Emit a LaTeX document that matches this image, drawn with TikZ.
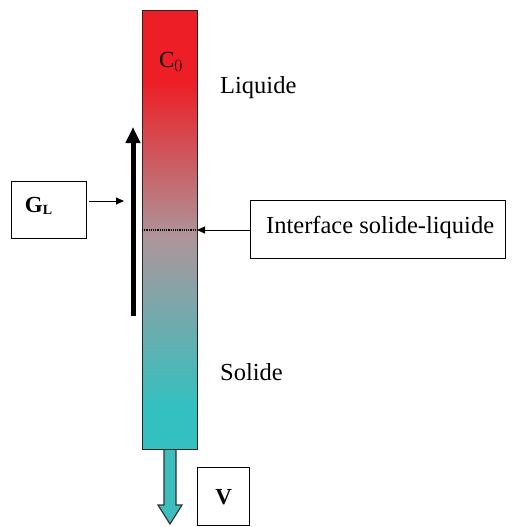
\documentclass[tikz,border=0pt]{standalone}
\usepackage{fontspec}
\setmainfont{Liberation Serif}
\usetikzlibrary{arrows.meta}
\definecolor{cred}{RGB}{237,30,38}
\definecolor{cmid}{RGB}{172,150,155}
\definecolor{cteal}{RGB}{52,192,192}
\definecolor{cteal2}{RGB}{60,190,190}
\pgfdeclareverticalshading{colshade}{100bp}{color(0bp)=(cteal); color(30bp)=(cteal); color(49bp)=(cmid); color(67bp)=(cred); color(100bp)=(cred)}
\tikzset{
  box/.style={draw=black, line width=1.4pt, fill=white},
  lbl/.style={font=\fontsize{24.5}{28}\selectfont, inner sep=0pt},
  thin arrow/.style={line width=0.9pt, -{Triangle[length=8pt,width=7pt]}},
}
\begin{document}
\begin{tikzpicture}[x=1pt,y=-1pt]
\useasboundingbox (0,0) rectangle (515,527);
% column
\node[draw=black!85, line width=1.4pt, shading=colshade, minimum width=55pt, minimum height=439pt, inner sep=0pt, anchor=north west] (col) at (142,10) {};
\node[lbl, font=\fontsize{23}{26}\selectfont] (c0) at (171,62) {C$_0$};
% dotted interface line
\coordinate (dl) at (142,230);
\coordinate (dr) at (197,230);
\draw[densely dotted, line width=1.2pt] (dl) -- (dr);
% labels
\node[lbl, anchor=west] (liq) at (220,88) {Liquide};
\node[lbl, anchor=west] (sol) at (220,372) {Solide};
% big growth arrow
\coordinate (ga) at (133,316);
\coordinate (gb) at (133,127);
\draw[line width=5pt, -{Triangle[length=16pt,width=14pt]}] (ga) -- (gb);
% GL box
\node[box, minimum width=75pt, minimum height=57pt, anchor=north west] (gl) at (11,181) {};
\node[lbl, font=\fontsize{23}{26}\selectfont\bfseries] at (38.5,206) {G\raisebox{-0.12em}{\fontsize{14}{16}\selectfont\bfseries L}};
\coordinate (glt) at (124,201);
\draw[thin arrow] (gl.east |- glt) ++(2,0) -- (glt);
% Interface box
\node[box, minimum width=255pt, minimum height=58pt, anchor=north west] (iface) at (250,200) {};
\node[lbl, anchor=west] at (266,227) {Interface solide-liquide};
\draw[thin arrow] (iface.west |- dr) -- (dr);
% V arrow
\draw[draw=black!80, line width=1.2pt, fill=cteal2, line join=miter]
  (164,450) -- (164,505) -- (158,505) -- (170,524) -- (182,505) -- (176,505) -- (176,450);
% V box
\node[box, minimum width=52pt, minimum height=58pt, anchor=north west] (vbox) at (197,467) {};
\node[lbl, font=\fontsize{23}{26}\selectfont\bfseries] at (vbox.center) {V};
\end{tikzpicture}
\end{document}
